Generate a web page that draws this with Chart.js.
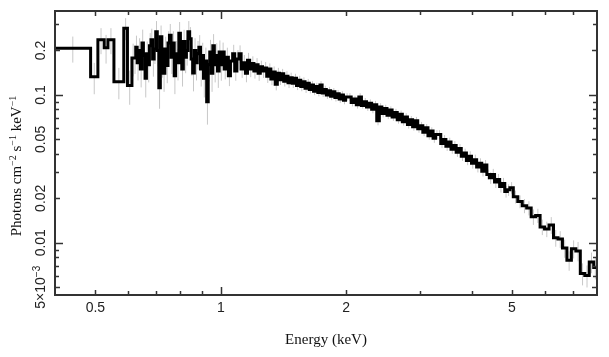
<!DOCTYPE html>
<html>
<head>
<meta charset="utf-8">
<script src="https://cdn.jsdelivr.net/npm/chart.js@4.4.1/dist/chart.umd.min.js"></script>
<style>
  html, body { margin: 0; padding: 0; background: #ffffff; }
  canvas { display: block; }
</style>
</head>
<body>
<canvas id="c" width="609" height="357"></canvas>
<script>
// ---- data ----
// lower edge of each energy bin, keV
const energyLo = [
  0.400, 0.487, 0.507, 0.525, 0.536, 0.554, 0.585, 0.597, 0.612,
  0.620, 0.625, 0.630, 0.636, 0.641, 0.647, 0.652, 0.658, 0.663, 0.669,
  0.674, 0.680, 0.686, 0.692, 0.698, 0.704, 0.710, 0.716, 0.722, 0.728,
  0.734, 0.741, 0.747, 0.753, 0.760, 0.766, 0.773, 0.779, 0.786, 0.793,
  0.800, 0.806, 0.813, 0.820, 0.827, 0.834, 0.842, 0.849, 0.856, 0.864,
  0.871, 0.878, 0.886, 0.894, 0.901, 0.909, 0.917, 0.925, 0.933, 0.941,
  0.949, 0.957, 0.965, 0.974, 0.982, 0.991, 0.999,
  1.007, 1.019, 1.031, 1.043, 1.055, 1.068, 1.080, 1.093, 1.106, 1.119,
  1.132, 1.146, 1.159, 1.173, 1.187, 1.201, 1.215, 1.229, 1.244, 1.259,
  1.274, 1.289, 1.304, 1.319, 1.335, 1.351, 1.367, 1.383, 1.399, 1.416,
  1.433, 1.450, 1.467, 1.484, 1.502, 1.520, 1.538, 1.556, 1.574, 1.593,
  1.612, 1.631, 1.650, 1.670, 1.690, 1.710, 1.730, 1.751, 1.771, 1.792,
  1.814, 1.835, 1.857, 1.879, 1.901, 1.924, 1.947, 1.970, 1.993,
  2.027, 2.056, 2.085, 2.115, 2.145, 2.176, 2.207, 2.238, 2.270, 2.302,
  2.335, 2.368, 2.402, 2.436, 2.471, 2.506, 2.542, 2.578, 2.615, 2.652,
  2.690, 2.728, 2.767, 2.806, 2.846, 2.887, 2.928, 2.970, 3.012, 3.055,
  3.099, 3.143, 3.188, 3.233, 3.279, 3.326, 3.373, 3.421, 3.470, 3.520,
  3.570, 3.621, 3.673, 3.725, 3.778, 3.832, 3.887, 3.942, 3.998, 4.055,
  4.113, 4.172, 4.231, 4.291, 4.352, 4.414, 4.477, 4.541, 4.606, 4.671,
  4.738, 4.805, 4.874, 4.943,
  5.037, 5.163, 5.292, 5.424, 5.560, 5.699, 5.841, 5.987, 6.137, 6.290,
  6.448, 6.609, 6.774, 6.944, 7.117, 7.295, 7.478, 7.665, 7.856
];
const energyTop = 8.0;   // upper edge of the last bin

// unfolded flux, photons cm^-2 s^-1 keV^-1
const flux = [
  0.207, 0.133, 0.236, 0.209, 0.236, 0.123, 0.283, 0.116, 0.178,
  0.178, 0.210, 0.165, 0.200, 0.150, 0.225, 0.185, 0.130, 0.190, 0.160,
  0.215, 0.236, 0.175, 0.205, 0.268, 0.200, 0.112, 0.248, 0.170, 0.140,
  0.205, 0.158, 0.225, 0.254, 0.180, 0.225, 0.135, 0.190, 0.165, 0.262,
  0.210, 0.150, 0.230, 0.180, 0.200, 0.268, 0.240, 0.175, 0.141, 0.200,
  0.165, 0.190, 0.210, 0.150, 0.185, 0.130, 0.170, 0.090, 0.160, 0.195,
  0.140, 0.215, 0.160, 0.185, 0.145, 0.195, 0.160,
  0.195, 0.150, 0.180, 0.135, 0.170, 0.190, 0.145, 0.175, 0.190, 0.150,
  0.165, 0.140, 0.172, 0.150, 0.163, 0.145, 0.160, 0.140, 0.155, 0.145,
  0.152, 0.134, 0.150, 0.128, 0.143, 0.118, 0.140, 0.127, 0.139, 0.124,
  0.134, 0.121, 0.131, 0.120, 0.130, 0.116, 0.126, 0.114, 0.123, 0.111,
  0.120, 0.109, 0.117, 0.106, 0.114, 0.104, 0.117, 0.103, 0.109, 0.100,
  0.107, 0.098, 0.105, 0.096, 0.102, 0.094, 0.100, 0.092, 0.097,
  0.097, 0.089, 0.094, 0.086, 0.097, 0.085, 0.090, 0.083, 0.088, 0.080,
  0.086, 0.067, 0.083, 0.075, 0.081, 0.073, 0.079, 0.071, 0.076, 0.068,
  0.074, 0.066, 0.071, 0.063, 0.068, 0.061, 0.067, 0.059, 0.062, 0.056,
  0.060, 0.053, 0.057, 0.051, 0.054, 0.054, 0.047, 0.050, 0.045, 0.048,
  0.043, 0.0455, 0.041, 0.0435, 0.0385, 0.0405, 0.036, 0.0385, 0.0345, 0.0365,
  0.0325, 0.0345, 0.0305, 0.0336, 0.0290, 0.0275, 0.0290, 0.0258, 0.0268, 0.0240,
  0.0252, 0.0222, 0.0228, 0.0236,
  0.0205, 0.0190, 0.0178, 0.0172, 0.0150, 0.0153, 0.0128, 0.0124, 0.0132, 0.0108,
  0.0106, 0.0092, 0.0076, 0.0091, 0.0088, 0.0062, 0.0060, 0.0074, 0.0068
];

// 1-sigma error of each bin, percent of its flux
const fluxErrPct = [
  20, 24, 20, 22, 20, 24, 17, 26, 25,
  22, 20, 24, 21, 25, 23, 20, 26, 21, 24,
  22, 19, 24, 21, 18, 22, 28, 19, 23, 25,
  21, 24, 20, 19, 23, 20, 25, 22, 24, 19,
  21, 24, 20, 22, 21, 18, 20, 23, 25, 21,
  24, 22, 21, 24, 22, 26, 23, 30, 23, 21,
  25, 20, 24, 21, 23, 20, 22,
  16, 15, 16, 15, 14, 15, 14, 15, 14, 13,
  13, 13, 12, 12, 12, 11, 11, 11, 10, 10,
  10, 10, 9, 9, 9, 9, 9, 8, 8, 8,
  8, 8, 8, 7, 7, 7, 7, 7, 7, 7,
  7, 6, 6, 6, 6, 6, 6, 6, 6, 6,
  6, 6, 6, 6, 6, 6, 6, 6, 6,
  6, 6, 5, 6, 6, 5, 6, 6, 6, 6,
  6, 7, 6, 6, 6, 6, 6, 6, 6, 6,
  6, 6, 6, 6, 6, 6, 6, 6, 6, 6,
  6, 6, 6, 7, 7, 7, 7, 7, 7, 7,
  7, 7, 7, 7, 7, 7, 7, 8, 8, 8,
  8, 8, 8, 8, 8, 9, 9, 9, 9, 9,
  9, 9, 9, 9,
  10, 10, 11, 11, 12, 11, 12, 12, 13, 13,
  13, 14, 15, 14, 15, 17, 17, 16, 17
];

// axis ranges and ticks
const xRange = [0.4, 8.0];
const yRange = [0.00443, 0.370];
const xTickValues = [0.5, 1, 2, 5];
const xTickLabels = ['0.5', '1', '2', '5'];
const xMinorTicks = [0.6, 0.7, 0.8, 0.9, 3, 4, 6, 7];
const xDecadeTicks = [1];
const yTickValues = [0.005, 0.01, 0.02, 0.05, 0.1, 0.2];
const yTickLabels = ['5×10^{−3}', '0.01', '0.02', '0.05', '0.1', '0.2'];
const yMinorTicks = [0.006, 0.007, 0.008, 0.009, 0.03, 0.04, 0.06, 0.07, 0.08, 0.09, 0.3];
const yDecadeTicks = [0.01, 0.1];
const xTitle = 'Energy (keV)';
const yTitle = 'Photons cm^{−2} s^{−1} keV^{−1}';

// ---- build datasets ----
const stepPoints = energyLo.map((e, i) => ({ x: e, y: flux[i] }));
stepPoints.push({ x: energyTop, y: flux[flux.length - 1] });

const errPoints = [];
energyLo.forEach((e, i) => {
  const hi = i + 1 < energyLo.length ? energyLo[i + 1] : energyTop;
  const xc = Math.sqrt(e * hi);
  const d = flux[i] * fluxErrPct[i] / 100;
  errPoints.push({ x: xc, y: flux[i] - d });
  errPoints.push({ x: xc, y: flux[i] + d });
  errPoints.push({ x: xc, y: null });
});

// ---- helpers for rich (superscript) text ----
function parseRich(str) {
  const parts = [];
  const re = /\^\{([^}]*)\}/g;
  let last = 0, m;
  while ((m = re.exec(str)) !== null) {
    if (m.index > last) parts.push({ t: str.slice(last, m.index), sup: false });
    parts.push({ t: m[1], sup: true });
    last = re.lastIndex;
  }
  if (last < str.length) parts.push({ t: str.slice(last), sup: false });
  return parts;
}
function drawRich(ctx, str, cx, baseY, size, supSize, family, supRise) {
  const parts = parseRich(str);
  let total = 0;
  parts.forEach(p => {
    ctx.font = (p.sup ? supSize : size) + 'px ' + family;
    p.w = ctx.measureText(p.t).width;
    total += p.w;
  });
  let x = cx - total / 2;
  ctx.textAlign = 'left';
  ctx.textBaseline = 'alphabetic';
  parts.forEach(p => {
    ctx.font = (p.sup ? supSize : size) + 'px ' + family;
    ctx.fillText(p.t, x, p.sup ? baseY - supRise : baseY);
    x += p.w;
  });
}

const framePlugin = {
  id: 'frameTicks',
  beforeDraw(chart) {
    const ctx = chart.ctx;
    ctx.save();
    ctx.fillStyle = '#ffffff';
    ctx.fillRect(0, 0, chart.width, chart.height);
    ctx.restore();
  },
  afterDraw(chart) {
    const ctx = chart.ctx;
    const a = chart.chartArea;
    const xs = chart.scales.x, ys = chart.scales.y;
    ctx.save();
    ctx.strokeStyle = '#333333';
    ctx.lineWidth = 1.5;
    ctx.lineCap = 'butt';
    const line = (x1, y1, x2, y2) => { ctx.beginPath(); ctx.moveTo(x1, y1); ctx.lineTo(x2, y2); ctx.stroke(); };
    const xTick = (v, len) => {
      const p = Math.round(xs.getPixelForValue(v)) + 0.5;
      line(p, a.bottom, p, a.bottom - len);
      line(p, a.top, p, a.top + len);
    };
    const yTick = (v, len) => {
      const p = Math.round(ys.getPixelForValue(v)) + 0.5;
      line(a.left, p, a.left + len, p);
      line(a.right, p, a.right - len, p);
    };
    xMinorTicks.forEach(v => xTick(v, 4));
    xTickValues.forEach(v => xTick(v, xDecadeTicks.includes(v) ? 8 : 5));
    yMinorTicks.forEach(v => yTick(v, 4));
    yTickValues.forEach(v => yTick(v, yDecadeTicks.includes(v) ? 8 : 5));

    ctx.lineWidth = 2;
    ctx.strokeRect(a.left, a.top, a.right - a.left, a.bottom - a.top);

    // rotated y tick labels
    ctx.fillStyle = '#222222';
    yTickValues.forEach((v, i) => {
      const p = ys.getPixelForValue(v);
      ctx.save();
      ctx.translate(45, p);
      ctx.rotate(-Math.PI / 2);
      drawRich(ctx, yTickLabels[i], 0, 0, 14, 10, '"Liberation Sans", Arial, sans-serif', 5);
      ctx.restore();
    });
    // rotated y title
    ctx.save();
    ctx.translate(21, 166);
    ctx.rotate(-Math.PI / 2);
    ctx.fillStyle = '#111111';
    drawRich(ctx, yTitle, 0, 0, 15, 10, '"Liberation Serif", "Times New Roman", serif', 5);
    ctx.restore();
    ctx.restore();
  }
};

new Chart(document.getElementById('c'), {
  type: 'line',
  data: {
    datasets: [
      {
        data: stepPoints,
        stepped: 'before',
        borderColor: '#000000',
        borderWidth: 3,
        pointRadius: 0,
        fill: false,
        order: 1
      },
      {
        data: errPoints,
        borderColor: '#c8c8c8',
        borderWidth: 1,
        pointRadius: 0,
        spanGaps: false,
        fill: false,
        order: 2
      }
    ]
  },
  options: {
    responsive: false,
    devicePixelRatio: 1,
    animation: false,
    layout: { padding: { top: 11, right: 12, left: 0, bottom: 0 } },
    plugins: { legend: { display: false }, tooltip: { enabled: false } },
    scales: {
      x: {
        type: 'logarithmic',
        min: xRange[0],
        max: xRange[1],
        grid: { display: false, drawTicks: false, tickLength: 0 },
        border: { display: false },
        afterBuildTicks: s => { s.ticks = xTickValues.map(v => ({ value: v })); },
        afterFit: s => { s.height = 62; },
        ticks: {
          autoSkip: false,
          maxRotation: 0,
          padding: 5,
          color: '#222222',
          font: { family: '"Liberation Sans", Arial, sans-serif', size: 14 },
          callback: (v) => { const i = xTickValues.indexOf(v); return i >= 0 ? xTickLabels[i] : ''; }
        },
        title: {
          display: true,
          text: xTitle,
          color: '#111111',
          font: { family: '"Liberation Serif", "Times New Roman", serif', size: 15 },
          padding: { top: 0, bottom: 8 }
        }
      },
      y: {
        type: 'logarithmic',
        min: yRange[0],
        max: yRange[1],
        grid: { display: false, drawTicks: false, tickLength: 0 },
        border: { display: false },
        ticks: { display: false },
        afterFit: s => { s.width = 55; }
      }
    }
  },
  plugins: [framePlugin]
});
</script>
</body>
</html>
